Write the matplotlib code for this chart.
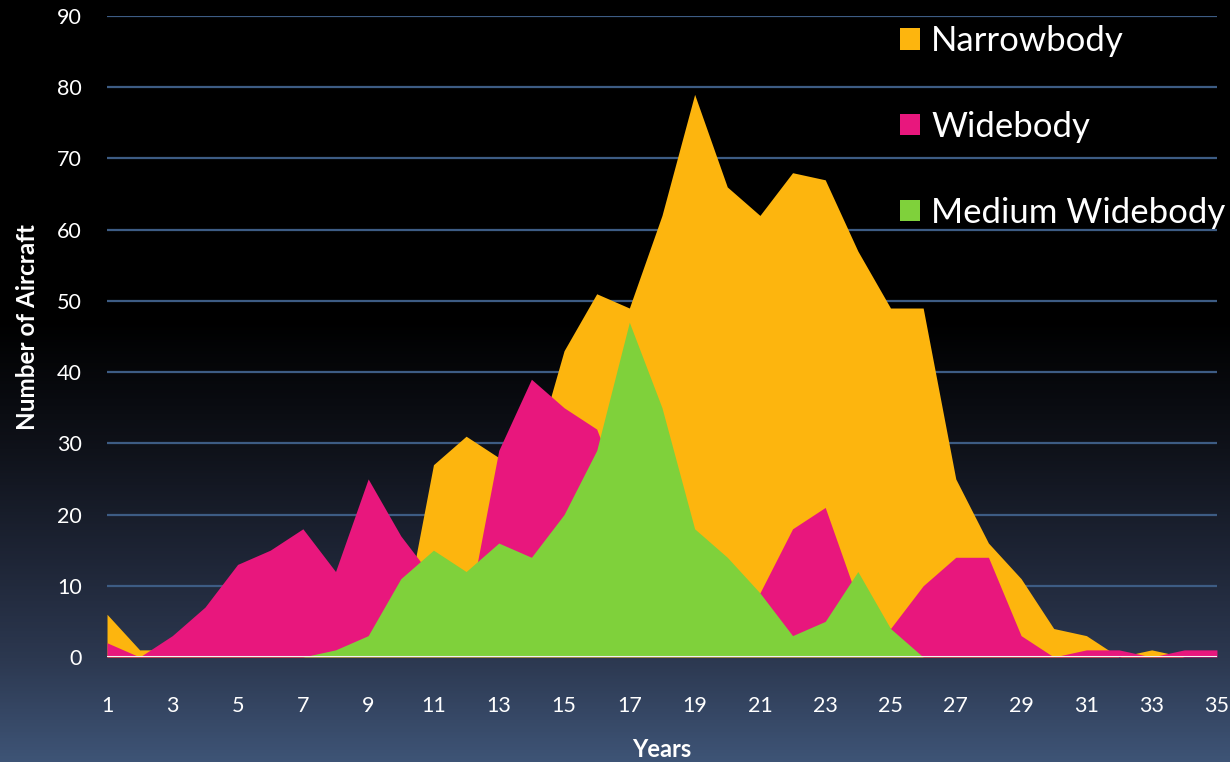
import numpy as np
import matplotlib.pyplot as plt
from matplotlib.colors import LinearSegmentedColormap

plt.rcParams['font.family'] = ['Lato', 'DejaVu Sans']

# aircraft age profile (number of aircraft per year of age)
years = np.arange(1, 36)
narrowbody = [6, 1, 1, 1, 1, 1, 1, 1, 1, 3, 27, 31, 28, 27, 43, 51, 49, 62, 79, 66,
              62, 68, 67, 57, 49, 49, 25, 16, 11, 4, 3, 0, 1, 0, 0]
widebody = [2, 0, 3, 7, 13, 15, 18, 12, 25, 17, 11, 5, 29, 39, 35, 32, 20, 15, 12, 10,
            9, 18, 21, 8, 4, 10, 14, 14, 3, 0, 1, 1, 0, 1, 1]
medium_widebody = [0, 0, 0, 0, 0, 0, 0, 1, 3, 11, 15, 12, 16, 14, 20, 29, 47, 35, 18, 14,
                   9, 3, 5, 12, 4, 0, 0, 0, 0, 0, 0, 0, 0, 0, 0]
series_names = ['Narrowbody', 'Widebody', 'Medium Widebody']
series_colors = ['#FDB50E', '#E8177D', '#7FD13B']
yticks = np.arange(0, 100, 10)
xticks = np.arange(1, 36, 2)

fig = plt.figure(figsize=(12.3, 7.62), dpi=100)

# background gradient, black at top to slate blue at bottom
bg = fig.add_axes([0, 0, 1, 1], zorder=-5)
bg_cmap = LinearSegmentedColormap.from_list(
    'bg', [(0.0, '#000000'), (0.42, '#000000'), (0.59, '#0f121a'),
           (0.735, '#1e2536'), (0.865, '#2c3850'), (1.0, '#3e5476')])
grad = np.linspace(0, 1, 512).reshape(-1, 1)
bg.imshow(grad, aspect='auto', cmap=bg_cmap, extent=[0, 1, 0, 1], origin='upper')
bg.axis('off')

ax = fig.add_axes([0.087, 0.1378, 0.9024, 0.8412])
ax.set_facecolor('none')

for vals, name, col in zip([narrowbody, widebody, medium_widebody], series_names, series_colors):
    ax.fill_between(years, 0, vals, color=col, linewidth=0, label=name, zorder=2)

ax.set_xlim(1, 35)
ax.set_ylim(0, 90)
ax.set_yticks(yticks)
ax.set_xticks(xticks)
for y in yticks[1:]:
    ax.axhline(y, color='#3d5c84', linewidth=1.6, zorder=1)
ax.axhline(0, color='#f2f2f2', linewidth=2.2, zorder=3)

for s in ax.spines.values():
    s.set_visible(False)
ax.tick_params(axis='both', length=0, colors='white', labelsize=15.5)
ax.tick_params(axis='y', pad=18)
ax.tick_params(axis='x', pad=28)

ax.set_ylabel('Number of Aircraft', color='white', fontsize=17.5, fontweight='bold', va='center')
ax.yaxis.set_label_coords(-0.0715, 0.515)
ax.set_xlabel('Years', color='white', fontsize=17, fontweight='bold', va='center')
ax.xaxis.set_label_coords(0.5, -0.145)

ax.legend(loc='upper left', bbox_to_anchor=(900 / 1230, 1 - 25 / 762),
          bbox_transform=fig.transFigure, frameon=False, fontsize=25,
          labelcolor='white', handlelength=0.58, handleheight=0.58,
          handletextpad=0.32, labelspacing=1.55, borderaxespad=0, borderpad=0)

fig.savefig('out.png', dpi=100)
